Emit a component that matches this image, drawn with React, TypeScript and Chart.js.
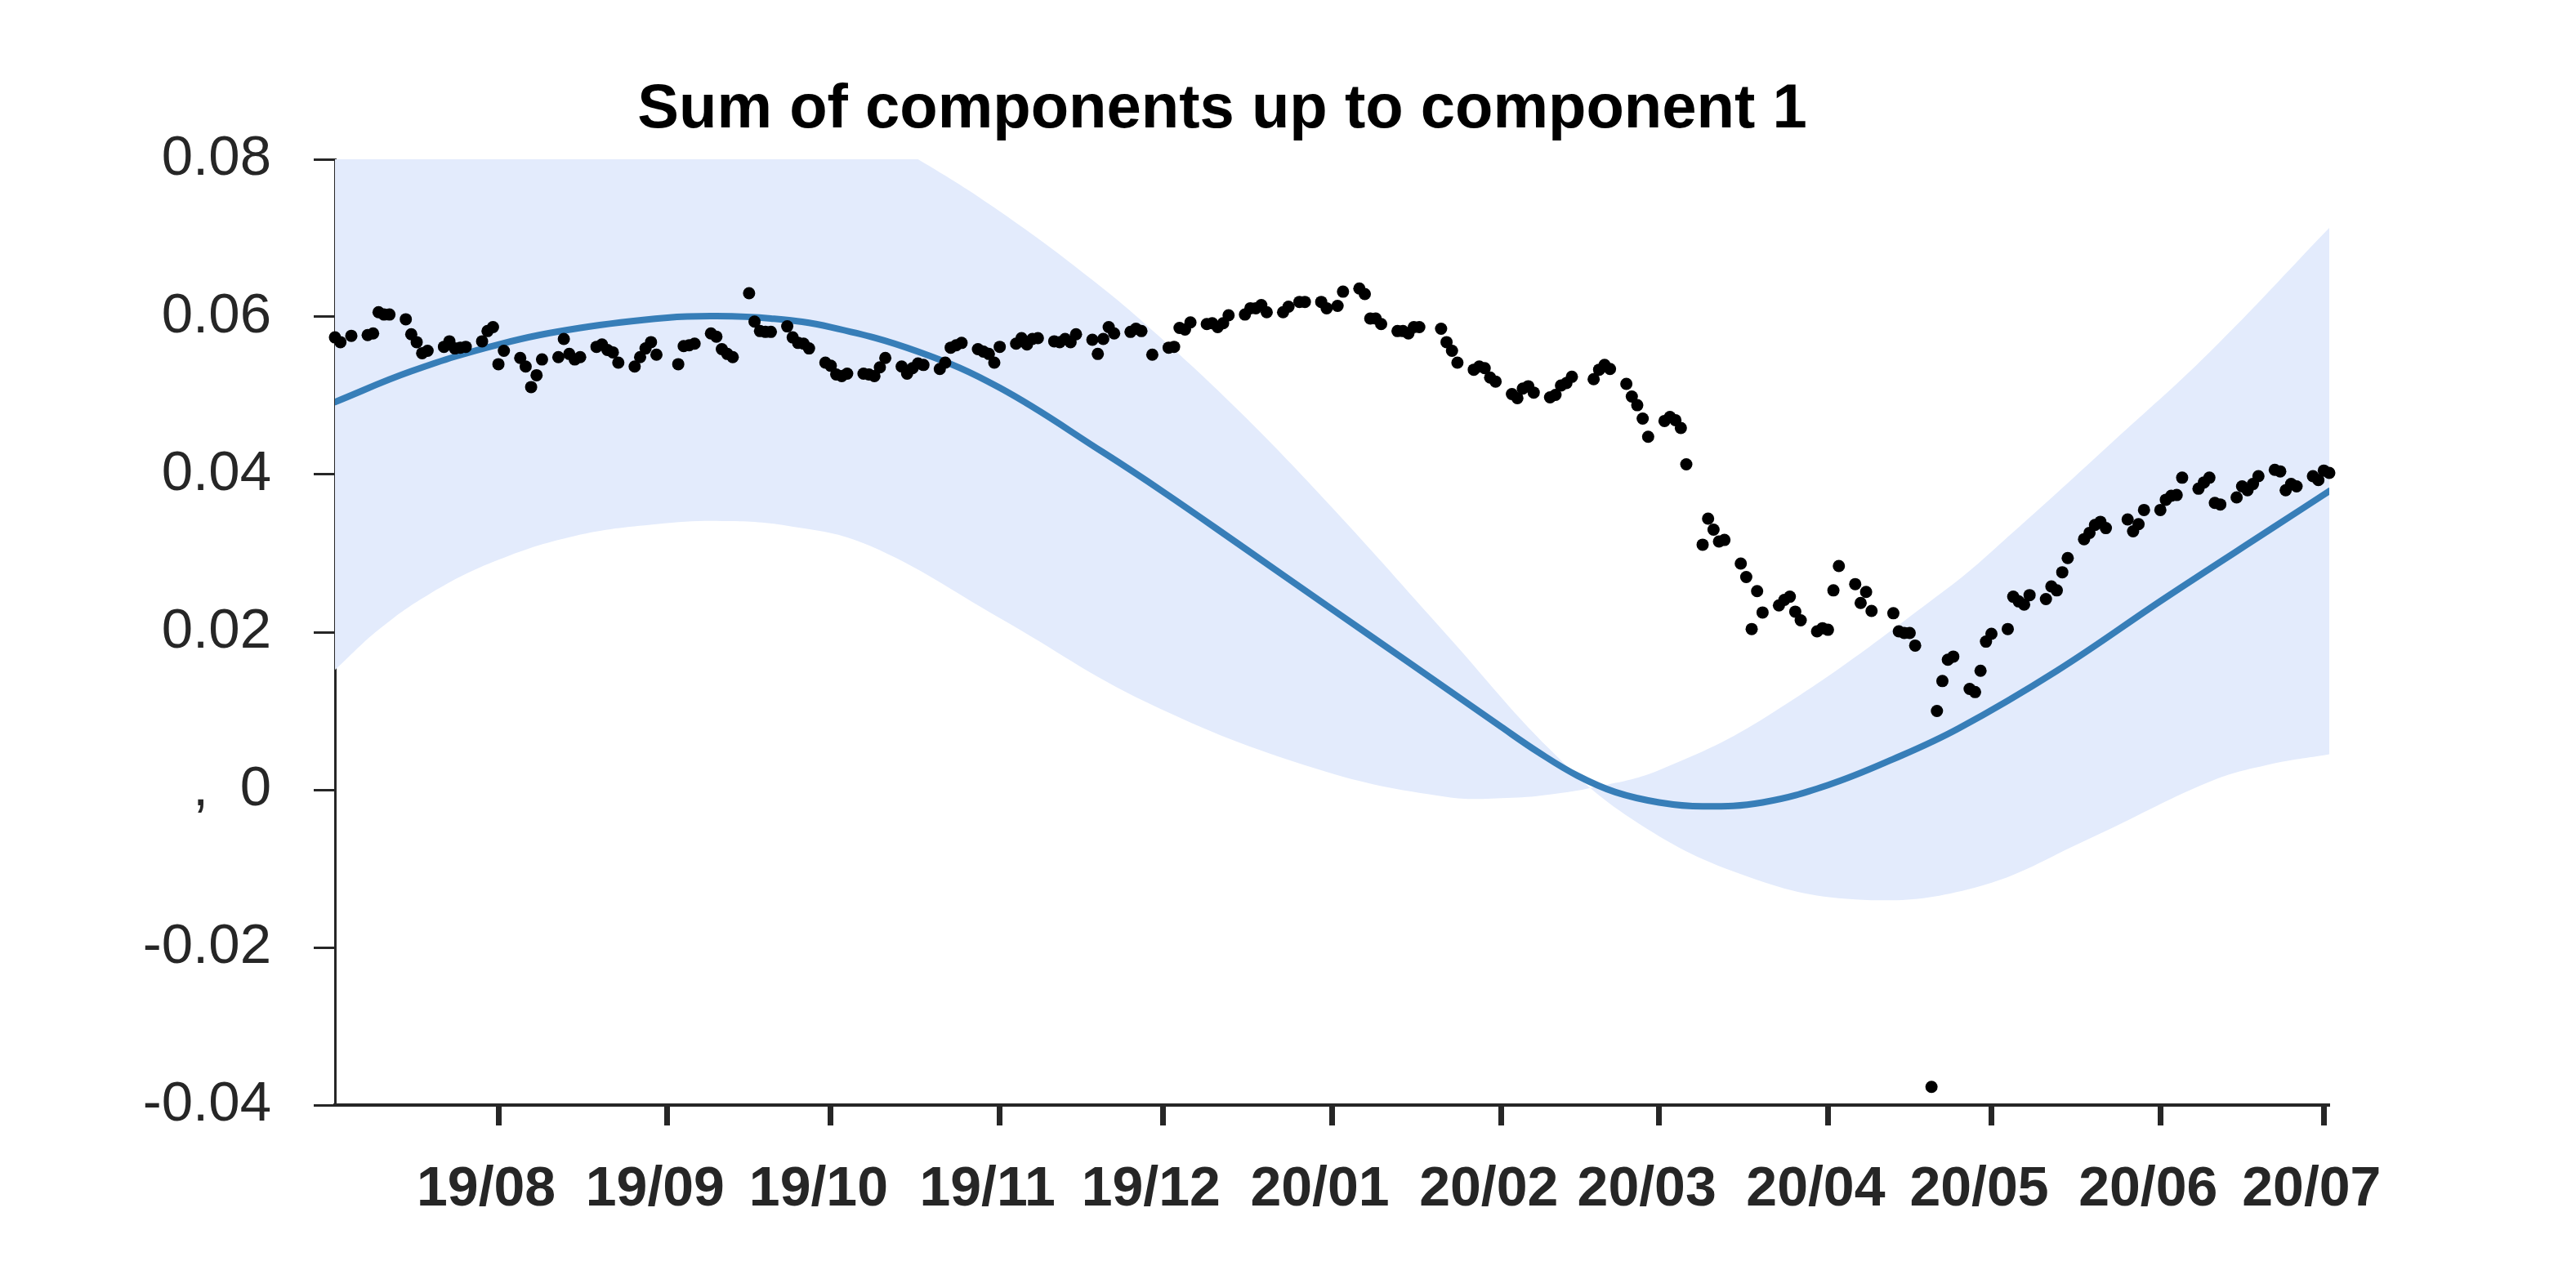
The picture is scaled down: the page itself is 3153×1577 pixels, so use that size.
import React, { useEffect, useRef } from "react";
import { Chart, registerables } from "chart.js";

Chart.register(...registerables);

const TITLE = "Sum of components up to component 1";
const FONT = "'Liberation Sans', Arial, Helvetica, sans-serif";

// observation calendar (weekdays, market holidays skipped)
const FIRST_DAY = "2019-07-02";
const LAST_DAY = "2020-07-02";
const MARKET_HOLIDAYS = [
  "2019-07-04", "2019-09-02", "2019-11-28", "2019-12-25", "2020-01-01",
  "2020-01-20", "2020-02-17", "2020-04-10", "2020-05-25",
];

// observed values, one row per week
const OBSERVED_VALUES = [
  0.0574, 0.0568, 0.0576,
  0.0577, 0.0579, 0.0606, 0.0603, 0.0603,
  0.0597, 0.0578, 0.0568, 0.0554, 0.0557,
  0.0562, 0.0569, 0.056, 0.0561, 0.0562,
  0.0569, 0.0582, 0.0587, 0.054, 0.0557,
  0.0548, 0.0537, 0.0511, 0.0526, 0.0546,
  0.0549, 0.0572, 0.0553, 0.0546, 0.0549,
  0.0562, 0.0565, 0.0558, 0.0555, 0.0542,
  0.0537, 0.0549, 0.056, 0.0568, 0.0552,
  0.054, 0.0563, 0.0564, 0.0566,
  0.0579, 0.0575, 0.0559, 0.0553, 0.0549,
  0.063, 0.0594, 0.0582, 0.0581, 0.0581,
  0.0588, 0.0574, 0.0567, 0.0566, 0.056,
  0.0542, 0.0538, 0.0527, 0.0525, 0.0528,
  0.0528, 0.0527, 0.0525, 0.0536, 0.0548,
  0.0537, 0.0528, 0.0535, 0.0541, 0.0539,
  0.0534, 0.0542, 0.0561, 0.0564, 0.0567,
  0.0559, 0.0556, 0.0553, 0.0542, 0.0562,
  0.0566, 0.0573, 0.0565, 0.0572, 0.0573,
  0.0569, 0.0568, 0.0572, 0.0568, 0.0578,
  0.0571, 0.0553, 0.0572, 0.0587, 0.0579,
  0.0581, 0.0585, 0.0582, 0.0552,
  0.0561, 0.0562, 0.0586, 0.0584, 0.0593,
  0.0591, 0.0592, 0.0587, 0.0592, 0.0602,
  0.0603, 0.0611, 0.0611, 0.0615, 0.0606,
  0.0606, 0.0613, 0.0619, 0.0619,
  0.0619, 0.0611, 0.0614, 0.0632,
  0.0636, 0.0629, 0.0598, 0.0598, 0.0591,
  0.0582, 0.0582, 0.0579, 0.0587, 0.0587,
  0.0585, 0.0568, 0.0557, 0.0542,
  0.0533, 0.0537, 0.0535, 0.0523, 0.0518,
  0.0502, 0.0497, 0.0509, 0.0512, 0.0504,
  0.0498, 0.0501, 0.0513, 0.0516, 0.0524,
  0.0521, 0.0533, 0.0539, 0.0534,
  0.0515, 0.0499, 0.0488, 0.0471, 0.0448,
  0.0468, 0.0473, 0.0469, 0.0459, 0.0413,
  0.0311, 0.0344, 0.033, 0.0315, 0.0317,
  0.0287, 0.027, 0.0204, 0.0252, 0.0225,
  0.0234, 0.0241, 0.0245, 0.0226, 0.0215,
  0.0201, 0.0205, 0.0203, 0.0253, 0.0284,
  0.0261, 0.0237, 0.0251, 0.0227,
  0.0224, 0.0201, 0.0199, 0.0199, 0.0183,
  -0.0377, 0.01, 0.0138, 0.0165, 0.0169,
  0.0128, 0.0124, 0.0151, 0.0188, 0.0198,
  0.0204, 0.0245, 0.0239, 0.0235, 0.0247,
  0.0242, 0.0258, 0.0253, 0.0276, 0.0294,
  0.0318, 0.0326, 0.0336, 0.034, 0.0332,
  0.0343, 0.0328, 0.0337, 0.0355,
  0.0355, 0.0368, 0.0373, 0.0374, 0.0396,
  0.0382, 0.039, 0.0396, 0.0364, 0.0362,
  0.0371, 0.0385, 0.038, 0.0388, 0.0398,
  0.0406, 0.0404, 0.038, 0.0388, 0.0385,
  0.0398, 0.0393, 0.0405, 0.0402,
];

// fitted curve
const FIT_DATES = [
  "2019-07-02", "2019-07-16", "2019-08-01", "2019-08-16", "2019-09-01", "2019-09-10",
  "2019-09-20", "2019-10-01", "2019-10-17", "2019-11-01", "2019-11-20", "2019-12-01",
  "2019-12-15", "2020-01-01", "2020-01-15", "2020-02-01", "2020-02-08", "2020-02-15",
  "2020-02-22", "2020-03-01", "2020-03-09", "2020-03-20", "2020-04-01", "2020-04-13",
  "2020-04-25", "2020-05-13", "2020-06-02", "2020-06-22", "2020-07-02",
];
const FIT_VALUES = [
  0.0492, 0.0531, 0.0565, 0.0586, 0.0599, 0.0601,
  0.0598, 0.0587, 0.0556, 0.051, 0.0428, 0.0378,
  0.0311, 0.0229, 0.0162, 0.008, 0.0047, 0.0018,
  -0.0003, -0.0016, -0.0021, -0.0016, 0.0006, 0.0039,
  0.0078, 0.0151, 0.0244, 0.0334, 0.0379,
];

// band edge starting high on the left
const BAND_A_DATES = [
  "2019-07-02", "2019-08-01", "2019-09-01", "2019-10-01", "2019-10-17", "2019-11-01",
  "2019-11-18", "2019-11-30", "2019-12-15", "2020-01-01", "2020-01-22", "2020-02-10",
  "2020-02-25", "2020-03-16", "2020-04-06", "2020-04-28", "2020-05-19", "2020-06-10",
  "2020-06-21", "2020-07-02",
];
const BAND_A_VALUES = [
  0.1005, 0.0985, 0.0938, 0.0862, 0.08, 0.0734,
  0.0647, 0.0577, 0.048, 0.0358, 0.0197, 0.0051,
  -0.0037, -0.0107, -0.0139, -0.0124, -0.0062, 0.001,
  0.0032, 0.0045,
];

// band edge starting low on the left
const BAND_B_DATES = [
  "2019-07-02", "2019-07-10", "2019-07-19", "2019-07-31", "2019-08-15", "2019-08-30",
  "2019-09-11", "2019-09-23", "2019-10-08", "2019-11-01", "2019-11-28", "2019-12-29",
  "2020-01-22", "2020-02-03", "2020-02-10", "2020-02-18", "2020-03-01", "2020-03-21",
  "2020-04-23", "2020-05-05", "2020-05-23", "2020-06-10", "2020-07-02",
];
const BAND_B_VALUES = [
  0.0152, 0.0203, 0.0247, 0.0289, 0.0322, 0.0337,
  0.0341, 0.0335, 0.031, 0.0218, 0.0111, 0.0027,
  -0.0009, -0.001, -0.0006, 0.0003, 0.0025, 0.0094,
  0.0256, 0.0327, 0.044, 0.0555, 0.0713,
];

const MONTH_TICKS = [
  "2019-08-01", "2019-09-01", "2019-10-01", "2019-11-01", "2019-12-01", "2020-01-01",
  "2020-02-01", "2020-03-01", "2020-04-01", "2020-05-01", "2020-06-01", "2020-07-01",
];
const Y_MIN = -0.04;
const Y_MAX = 0.08;
const Y_STEP = 0.02;

const DAY_MS = 86400000;
const dayNumber = (s: string) => Math.round(Date.parse(s + "T00:00:00Z") / DAY_MS);

function tradingDays(): number[] {
  const out: number[] = [];
  const hol = new Set(MARKET_HOLIDAYS.map(dayNumber));
  for (let d = dayNumber(FIRST_DAY); d <= dayNumber(LAST_DAY); d++) {
    const wd = new Date(d * DAY_MS).getUTCDay();
    if (wd === 0 || wd === 6 || hol.has(d)) continue;
    out.push(d);
  }
  return out;
}

const toPoints = (dates: string[], values: number[]) =>
  dates.map((d, i) => ({ x: dayNumber(d), y: values[i] }));

const AXIS_COLOR = "#262626";

export default function App() {
  const canvasRef = useRef<HTMLCanvasElement | null>(null);

  useEffect(() => {
    if (!canvasRef.current) return;
    const days = tradingDays();
    const n = Math.min(days.length, OBSERVED_VALUES.length);
    const observed = [] as { x: number; y: number }[];
    for (let i = 0; i < n; i++) observed.push({ x: days[i], y: OBSERVED_VALUES[i] });

    const titlePlugin = {
      id: "plainTitle",
      afterDraw(chart: any) {
        const { ctx, chartArea } = chart;
        ctx.save();
        ctx.font = `bold 76px ${FONT}`;
        ctx.fillStyle = "#000";
        ctx.textAlign = "center";
        ctx.textBaseline = "alphabetic";
        ctx.fillText(TITLE, chartArea.left + 1086, 156);
        ctx.restore();
      },
    };

    const smooth = { tension: 0.4, pointRadius: 0, fill: false };

    const chart = new Chart(canvasRef.current, {
      type: "line",
      data: {
        datasets: [
          {
            label: "observed",
            data: observed,
            showLine: false,
            pointRadius: 7.5,
            pointHoverRadius: 7.5,
            pointBackgroundColor: "#000",
            pointBorderWidth: 0,
            borderColor: "#000",
            clip: false,
          } as any,
          {
            ...smooth,
            label: "fit",
            data: toPoints(FIT_DATES, FIT_VALUES),
            borderColor: "#377eb8",
            borderWidth: 8,
            borderCapStyle: "round",
          },
          {
            ...smooth,
            label: "bandA",
            data: toPoints(BAND_A_DATES, BAND_A_VALUES),
            borderColor: "rgba(0,0,0,0)",
            borderWidth: 0,
          },
          {
            ...smooth,
            label: "bandB",
            data: toPoints(BAND_B_DATES, BAND_B_VALUES),
            borderColor: "rgba(0,0,0,0)",
            borderWidth: 0,
            fill: { target: 2 },
            backgroundColor: "#e3ebfc",
          },
        ],
      },
      options: {
        animation: false,
        responsive: true,
        maintainAspectRatio: false,
        devicePixelRatio: 1,
        events: [],
        layout: { padding: { left: 0, right: 302, top: 195, bottom: 0 } },
        plugins: {
          legend: { display: false },
          title: { display: false },
          tooltip: { enabled: false },
        },
        scales: {
          x: {
            type: "linear",
            min: dayNumber(FIRST_DAY),
            max: dayNumber(LAST_DAY),
            afterBuildTicks: (axis: any) => {
              axis.ticks = MONTH_TICKS.map((s) => ({ value: dayNumber(s) }));
            },
            afterFit: (axis: any) => {
              axis.height = 224;
            },
            grid: {
              drawOnChartArea: false,
              drawTicks: true,
              tickLength: 25,
              tickWidth: 7,
              tickColor: AXIS_COLOR,
            },
            border: { display: true, color: AXIS_COLOR, width: 4 },
            ticks: {
              autoSkip: false,
              maxRotation: 0,
              minRotation: 0,
              padding: 38,
              labelOffset: -15,
              color: AXIS_COLOR,
              font: { family: FONT, size: 68, weight: "bold" },
              callback: (value: any) => {
                const dt = new Date(Number(value) * DAY_MS);
                const yy = String(dt.getUTCFullYear() % 100).padStart(2, "0");
                const mm = String(dt.getUTCMonth() + 1).padStart(2, "0");
                return `${yy}/${mm}`;
              },
            },
          },
          y: {
            min: Y_MIN,
            max: Y_MAX,
            afterFit: (axis: any) => {
              axis.width = 410;
            },
            grid: {
              drawOnChartArea: false,
              drawTicks: true,
              tickLength: 26,
              tickWidth: 3,
              tickColor: AXIS_COLOR,
            },
            border: { display: true, color: AXIS_COLOR, width: 3 },
            ticks: {
              stepSize: Y_STEP,
              padding: 52,
              color: AXIS_COLOR,
              font: { family: FONT, size: 69 },
              callback: (value: any) => {
                const v = Number(value);
                if (Math.abs(v) < 1e-9) return ",  0";
                return v.toFixed(2);
              },
            },
          },
        },
      } as any,
      plugins: [titlePlugin],
    });
    return () => chart.destroy();
  }, []);

  return (
    <div
      style={{
        position: "fixed",
        left: 0,
        top: 0,
        width: "3153px",
        height: "1577px",
        background: "#fff",
      }}
    >
      <canvas ref={canvasRef} />
    </div>
  );
}
